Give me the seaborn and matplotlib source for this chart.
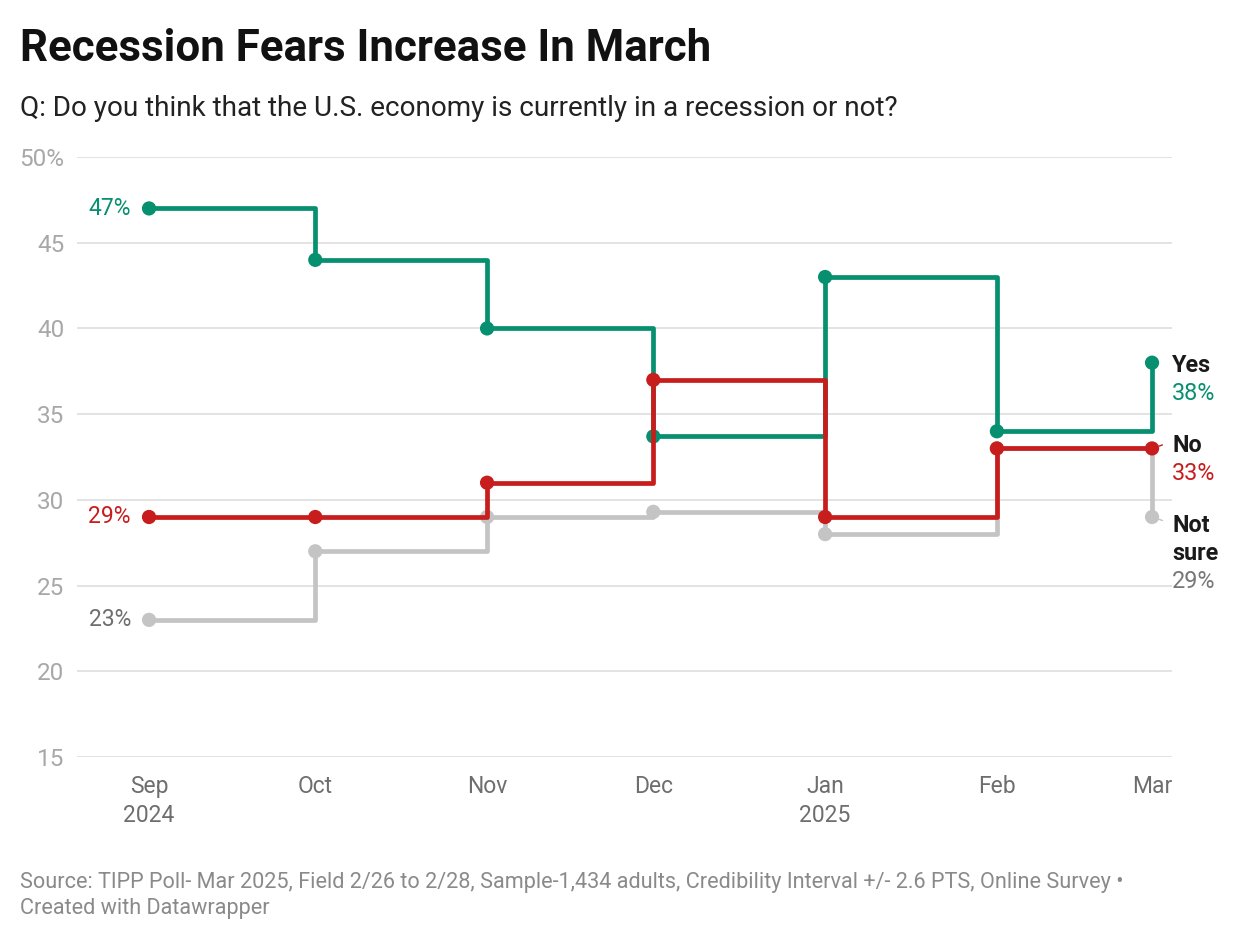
import matplotlib
matplotlib.use("Agg")
import matplotlib.pyplot as plt
import matplotlib.dates as mdates
import seaborn as sns
import pandas as pd

# Poll data
months = ["2024-09-01", "2024-10-01", "2024-11-01", "2024-12-01",
          "2025-01-01", "2025-02-01", "2025-03-01"]
month_labels = ["Sep\n2024", "Oct", "Nov", "Dec", "Jan\n2025", "Feb", "Mar"]
yes_vals = [47, 44, 40, 33.7, 43, 34, 38]
no_vals = [29, 29, 31, 37, 29, 33, 33]
notsure_vals = [23, 27, 29, 29.3, 28, 33, 29]
y_ticks = [15, 20, 25, 30, 35, 40, 45, 50]
y_tick_labels = ["15", "20", "25", "30", "35", "40", "45", "50%"]

GREEN = "#06906f"
RED = "#c71e1d"
GREY = "#c4c4c4"

sns.set_theme(style="white")
plt.rcParams["font.family"] = ["Roboto", "DejaVu Sans"]

dates = pd.to_datetime(months)
df = pd.DataFrame({"date": dates, "Yes": yes_vals, "No": no_vals, "Not sure": notsure_vals})

fig = plt.figure(figsize=(12.4, 9.4), dpi=100)
ax = fig.add_axes([77 / 1240, 1 - 757 / 940, (1172 - 77) / 1240, 600 / 940])

# grey first, red on top
series = [("Not sure", GREY, 2), ("Yes", GREEN, 4), ("No", RED, 6)]
for name, col, z in series:
    sns.lineplot(data=df, x="date", y=name, ax=ax, color=col, linewidth=3.4,
                 drawstyle="steps-post", zorder=z)
    sns.scatterplot(data=df, x="date", y=name, ax=ax, color=col, s=105,
                    edgecolor="none", zorder=z + 1)

ax.set_ylim(15, 50)
ax.set_xlim(mdates.date2num(dates[0]) - 13, mdates.date2num(dates[-1]) + 3.6)
ax.set_yticks(y_ticks)
ax.set_yticklabels(y_tick_labels)
ax.set_xticks(dates)
ax.set_xticklabels(month_labels)
ax.set_xlabel("")
ax.set_ylabel("")
for s in ax.spines.values():
    s.set_visible(False)
ax.grid(axis="y", color="#e3e3e3", linewidth=1.4, zorder=0)
ax.grid(axis="x", visible=False)
ax.tick_params(axis="y", length=0, pad=9, labelsize=17.5, labelcolor="#a8a8a8")
ax.tick_params(axis="x", length=0, pad=13, labelsize=16.5, labelcolor="#6e6e6e")
for t in ax.get_xticklabels():
    t.set_linespacing(1.35)

# start labels
starts = [(yes_vals[0], GREEN), (no_vals[0], RED), (notsure_vals[0], "#6e6e6e")]
for v, col in starts:
    ax.annotate(f"{v:g}%", xy=(dates[0], v), xytext=(-13, 0), textcoords="offset points",
                ha="right", va="center", fontsize=16.5, color=col)

# end labels: (text, value, colour, bold, offset in px below the dot)
end_lines = [
    ("Yes", yes_vals[-1], "#1a1a1a", True, 2.5),
    (f"{yes_vals[-1]:g}%", yes_vals[-1], GREEN, False, 30.5),
    ("No", no_vals[-1], "#1a1a1a", True, -2.5),
    (f"{no_vals[-1]:g}%", no_vals[-1], RED, False, 25.5),
    ("Not", notsure_vals[-1], "#1a1a1a", True, 8.5),
    ("sure", notsure_vals[-1], "#1a1a1a", True, 36.5),
    (f"{notsure_vals[-1]:g}%", notsure_vals[-1], "#777777", False, 64.5),
]
for txt, v, col, bold, dy in end_lines:
    ax.annotate(txt, xy=(dates[-1], v), xytext=(14.5, -dy * 0.72), textcoords="offset points",
                ha="left", va="center", fontsize=16.8, color=col,
                fontweight="bold" if bold else "normal", annotation_clip=False)

# little leader ticks next to the No / Not sure end dots
ax.annotate("", xy=(dates[-1], no_vals[-1]), xytext=(7.5, 2.5), textcoords="offset points",
            arrowprops=dict(arrowstyle="-", color=RED, lw=1, shrinkA=0, shrinkB=5), zorder=8)
ax.annotate("", xy=(dates[-1], notsure_vals[-1]), xytext=(7.5, -2.5), textcoords="offset points",
            arrowprops=dict(arrowstyle="-", color=GREY, lw=1, shrinkA=0, shrinkB=5), zorder=8)

fig.text(20 / 1240, 1 - 61 / 940, "Recession Fears Increase In March", fontsize=31.6,
         fontweight="bold", color="#111111", va="baseline", ha="left")
fig.text(20 / 1240, 1 - 116 / 940, "Q: Do you think that the U.S. economy is currently in a recession or not?",
         fontsize=20.1, color="#222222", va="baseline", ha="left")
fig.text(20 / 1240, 1 - 888 / 940,
         "Source: TIPP Poll- Mar 2025, Field 2/26 to 2/28, Sample-1,434 adults, Credibility Interval +/- 2.6 PTS, Online Survey •",
         fontsize=15.6, color="#8a8a8a", va="baseline", ha="left")
fig.text(20 / 1240, 1 - 914 / 940, "Created with Datawrapper",
         fontsize=15.6, color="#8a8a8a", va="baseline", ha="left")

fig.savefig("out.png", dpi=100, facecolor="white")
